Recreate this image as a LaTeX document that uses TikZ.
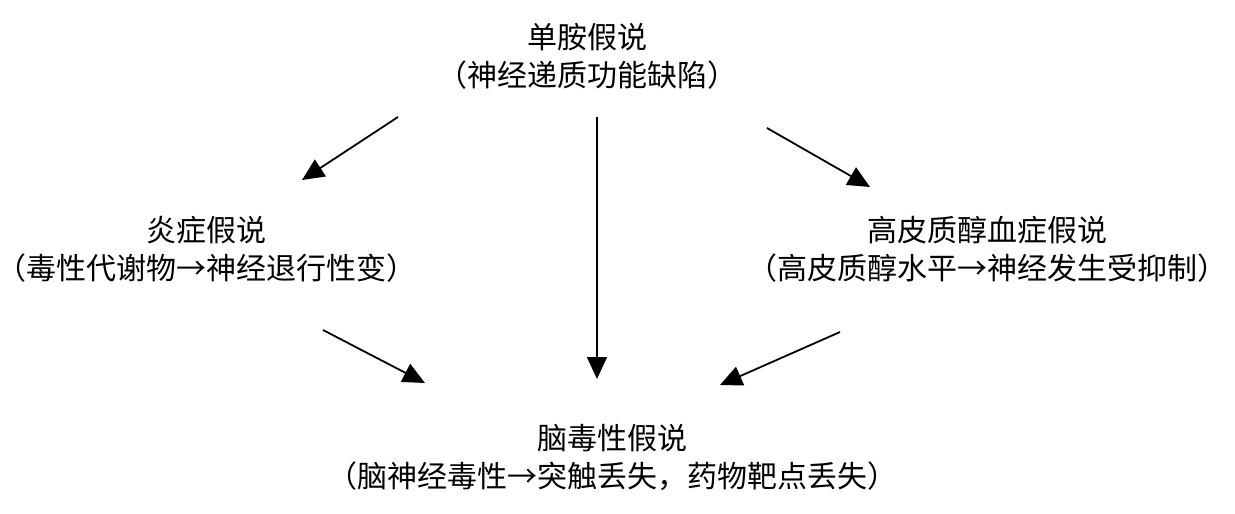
\documentclass[tikz,border=0pt]{standalone}
\usepackage{fontspec}
\setmainfont{Noto Sans CJK SC}
\usetikzlibrary{arrows.meta}
\begin{document}
\begin{tikzpicture}[x=1pt,y=-1pt,
  lbl/.style={align=center,inner sep=0pt,font=\fontsize{30}{38}\selectfont},
  conn/.style={line width=1.8pt,-{Triangle[length=22pt,width=20pt]}}]
\useasboundingbox (0,0) rectangle (1235,514);
\node[lbl] (mono) at (587,56) {单胺假说\\（神经递质功能缺陷）};
\node[lbl] (infl) at (207,249) {炎症假说\\（毒性代谢物→神经退行性变）};
\node[lbl] (cort) at (987,249) {高皮质醇血症假说\\（高皮质醇水平→神经发生受抑制）};
\node[lbl] (neuro) at (612,458) {脑毒性假说\\（脑神经毒性→突触丢失，药物靶点丢失）};
\coordinate (a1s) at (398,117); \coordinate (a1e) at (302,180);
\coordinate (a2s) at (597,117); \coordinate (a2e) at (597,379);
\coordinate (a3s) at (767,128); \coordinate (a3e) at (870,187);
\coordinate (a4s) at (323,330); \coordinate (a4e) at (425,383);
\coordinate (a5s) at (840,332); \coordinate (a5e) at (720,385);
\draw[conn] (a1s) -- (a1e);
\draw[conn] (a2s) -- (a2e);
\draw[conn] (a3s) -- (a3e);
\draw[conn] (a4s) -- (a4e);
\draw[conn] (a5s) -- (a5e);
\end{tikzpicture}
\end{document}
